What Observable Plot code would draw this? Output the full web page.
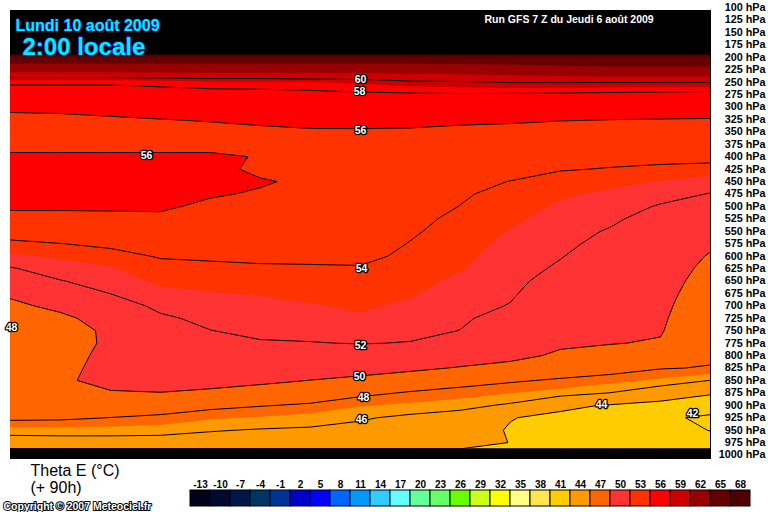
<!DOCTYPE html>
<html>
<head>
<meta charset="utf-8">
<script src="https://cdn.jsdelivr.net/npm/d3@7"></script>
<script src="https://cdn.jsdelivr.net/npm/@observablehq/plot@0.6"></script>
<style>
html, body { margin: 0; padding: 0; background: #ffffff; }
#chart { width: 768px; height: 512px; overflow: hidden; font-family: "Liberation Sans", Arial, sans-serif; }
#chart svg { display: block; }
</style>
</head>
<body>
<div id="chart"></div>
<script>
// ---------- DATA ----------
// grid rows: pressure levels (hPa)
const pressureLevels = [100,125,150,175,200,225,250,275,300,325,350,375,400,425,450,475,500,525,550,575,600,625,650,675,700,725,750,775,800,825,850,875,900,925,950,975];
// grid columns along the cross-section (index)
const columnX = [0,1,2,3,4,5,6,7,8,9,10,11,12,13,14];
// Theta E (°C) profiles, one array per column, top (100 hPa) to bottom (975 hPa)
const profile00 = [100,95,90,85,67,63,58.3,57.0,56.4,55.5,55.3,55.6,56.2,56.5,56.6,56.4,56.15,55.7,54.7,53.7,52.8,51.9,51.1,50.3,49.6,49.1,48.7,48.5,48.5,48.6,48.6,48.6,48.5,48.4,46.5,45.3];
const profile01 = [100,95,90,85,67,63,58.3,57.0,56.45,55.6,55.3,55.6,56.2,56.5,56.6,56.4,56.15,55.7,54.9,53.98,53.15,52.55,51.95,51.2,50.45,49.6,49.3,49.2,49.3,49.5,49.8,49.6,49.0,48.3,46.6,45.3];
const profile02 = [100,95,90,85,67,63,58.3,57.0,56.6,55.8,55.4,55.6,56.2,56.5,56.6,56.4,56.15,55.75,55.1,54.25,53.6,52.9,52.45,52.02,51.3,50.8,50.3,50.3,50.5,50.6,50.4,49.9,49.0,47.98,46.6,45.3];
const profile03 = [100,95,90,85,67,63,58.55,57.1,56.7,55.98,55.5,55.6,56.2,56.5,56.6,56.4,56.15,55.8,55.4,54.8,54.1,53.6,53.2,52.75,52.3,51.8,51.3,50.9,50.7,50.6,50.4,49.98,48.9,47.7,46.5,45.3];
const profile04 = [100,95,90,85,67,63,58.8,57.3,56.75,56.1,55.6,55.7,56.15,56.35,56.3,56.1,55.8,55.5,55.2,54.75,54.2,53.7,53.3,52.95,52.6,52.3,51.98,51.5,51.1,50.8,50.4,49.8,48.45,47.15,46.1,45.3];
const profile05 = [100,95,90,85,67,63,58.8,57.4,56.85,56.25,55.75,55.7,55.95,55.75,56.1,55.9,55.6,55.35,55.05,54.7,54.3,53.8,53.4,53.05,52.8,52.5,52.25,51.9,51.3,50.8,50.3,49.4,48.1,46.9,45.9,45.2];
const profile06 = [100,95,90,85,67,63,59.0,57.5,57.0,56.4,55.85,55.65,55.6,55.7,55.8,55.7,55.5,55.25,54.95,54.65,54.3,53.85,53.5,53.2,52.95,52.65,52.35,51.95,51.3,50.7,49.98,49.0,47.8,46.6,45.8,45.1];
const profile07 = [100,95,90,85,67,63,59.2,57.7,57.1,56.45,55.85,55.55,55.4,55.35,55.35,55.3,55.15,55.0,54.8,54.55,54.3,53.9,53.6,53.35,53.12,52.9,52.6,52.05,51.3,50.6,49.65,48.4,47.1,46.15,45.6,45.0];
const profile08 = [100,95,90,85,67,63.1,59.7,57.76,57.1,56.45,55.8,55.35,55.0,54.75,54.6,54.5,54.4,54.3,54.15,53.95,53.75,53.5,53.3,53.1,52.85,52.6,52.3,51.95,51.3,50.3,49.2,47.85,46.8,45.7,45.1,44.6];
const profile09 = [100,95,90,85,67,63.3,59.83,57.84,57.1,56.3,55.65,55.1,54.7,54.4,54.25,54.12,53.98,53.75,53.55,53.38,53.25,53.08,52.8,52.55,52.35,52.15,51.98,51.5,50.8,49.9,48.6,47.5,46.4,45.4,44.6,44.35];
const profile10 = [100,95,90,85,67,63.6,60.1,57.8,57.1,56.25,55.5,54.95,54.6,54.3,53.98,53.7,53.45,53.2,52.95,52.75,52.55,52.4,52.25,52.12,51.95,51.6,51.2,50.8,50.35,49.6,48.2,47.05,45.8,44.05,43.9,43.98];
const profile11 = [100,95,90,85,67,64.0,60.1,57.7,57.0,56.1,55.3,54.75,54.4,54.07,53.6,53.15,52.85,52.6,52.4,52.25,52.05,51.85,51.6,51.35,51.1,50.8,50.5,50.2,49.8,49.0,47.8,46.6,44.3,43.7,43.2,43.3];
const profile12 = [100,95,90,85,67,64.3,60.1,57.6,56.95,56.02,55.2,54.65,54.3,53.95,53.3,52.8,52.5,52.2,51.9,51.65,51.45,51.25,51.05,50.85,50.65,50.45,50.25,50.05,49.55,48.7,47.35,45.98,43.9,43.1,42.8,43.0];
const profile13 = [100,95,90,85,67,64.3,60.1,57.5,56.9,55.97,55.15,54.6,54.25,53.85,52.95,52.4,51.9,51.5,51.2,50.95,50.75,50.6,50.5,50.4,50.3,50.2,50.1,49.9,49.4,48.1,46.8,45.0,43.5,42.3,42.7,42.9];
const profile14 = [100,95,90,85,67,64.3,60.1,57.3,56.85,55.93,55.1,54.55,54.45,53.55,52.6,51.95,51.4,50.95,50.55,50.2,49.9,49.7,49.5,49.3,49.1,48.9,48.7,48.5,48.3,47.9,45.98,44.2,42.9,41.7,41.95,42.6];
const profiles = [profile00,profile01,profile02,profile03,profile04,profile05,profile06,profile07,profile08,profile09,profile10,profile11,profile12,profile13,profile14];

// legend classes (°C) and their colours
const legendValues = [-13,-10,-7,-4,-1,2,5,8,11,14,17,20,23,26,29,32,35,38,41,44,47,50,53,56,59,62,65,68];
const legendColors = ["#00001a","#000a2e","#001548","#003366","#003399","#0000cc","#0000ff","#0066ff","#0099ff","#33ccff","#66ffff","#66ff99","#66ff66","#66ff00","#ccff1a","#ffff00","#ffff88","#ffe650","#ffcc00","#ff9900","#ff6600","#ff3333","#ff3300","#ff0000","#cc0000","#990000","#660000","#4d0000"];
const aboveScaleValue = 71;
const aboveScaleColor = "#000000";
// isolines drawn every 2 °C
const lineThresholds = [42,44,46,48,50,52,54,56,58,60];
// axis ticks
const tickPressures = [100,125,150,175,200,225,250,275,300,325,350,375,400,425,450,475,500,525,550,575,600,625,650,675,700,725,750,775,800,825,850,875,900,925,950,975,1000];
// isoline labels
const labelText = ["60","58","56","56","54","52","50","48","46","44","42","48"];
const labelCol  = [7.0,6.98,7.0,2.72,7.02,7.0,6.98,7.06,7.02,11.82,13.64,0.02];
const labelP    = [245,269,347,397,625,780,842,884,929,898,917,744];
// texts
const dateTitle = "Lundi 10 août 2009";
const hourTitle = "2:00 locale";
const runTitle = "Run GFS 7 Z du Jeudi 6 août 2009";
const varName = "Theta E (°C)";
const leadTime = "(+ 90h)";
const copyright = "Copyright © 2007 Meteociel.fr";

// ---------- BUILD ----------
const nx = columnX.length, ny = pressureLevels.length;
const grid = [];
for (let j = 0; j < ny; j++) for (let i = 0; i < nx; i++) grid.push(profiles[i][j]);
const dx = columnX[1] - columnX[0], dp = pressureLevels[1] - pressureLevels[0];
const gridExtent = {
  width: nx, height: ny,
  x1: columnX[0] - dx / 2, x2: columnX[nx - 1] + dx / 2,
  y1: pressureLevels[0] - dp / 2, y2: pressureLevels[ny - 1] + dp / 2
};
const firstIdx = legendValues.indexOf(41);
const fillThresholds = legendValues.slice(firstIdx).concat([aboveScaleValue]);
const fillColors = legendColors.slice(firstIdx).concat([aboveScaleColor]);
const pTop = 106, pBottom = 1007;
const font = "'Liberation Sans', Arial, sans-serif";

const main = Plot.plot({
  width: 768, height: 462,
  marginTop: 10, marginRight: 58, marginBottom: 4, marginLeft: 10,
  style: {fontFamily: font, background: "#ffffff", overflow: "visible"},
  x: {domain: [columnX[0], columnX[nx - 1]], axis: null},
  y: {domain: [pBottom, pTop], axis: null},
  color: {type: "threshold", domain: fillThresholds.slice(1), range: fillColors},
  marks: [
    Plot.frame({fill: "black", stroke: "black"}),
    Plot.contour(grid, {...gridExtent, fill: Plot.identity, thresholds: fillThresholds, clip: true}),
    Plot.contour(grid, {...gridExtent, value: Plot.identity, thresholds: lineThresholds, fill: "none", stroke: "black", strokeWidth: 1, clip: true}),
    Plot.text(labelText, {x: (d, i) => labelCol[i], y: (d, i) => labelP[i], text: d => d,
      fill: "white", stroke: "black", strokeWidth: 2.5, paintOrder: "stroke", fontSize: 10.5, fontWeight: "bold"}),
    Plot.axisY(tickPressures, {anchor: "right", tickSize: 0, tickPadding: 55, textAnchor: "end",
      tickFormat: d => `${d} hPa`, fontSize: 10.8, fontWeight: "bold", fill: "black", label: null}),
    Plot.text([dateTitle], {frameAnchor: "top-left", dx: 5, dy: 9, fontSize: 16, fontWeight: "bold",
      fill: "#00eeff", stroke: "#0022bb", strokeWidth: 1.2, paintOrder: "stroke"}),
    Plot.text([hourTitle], {frameAnchor: "top-left", dx: 12, dy: 27, fontSize: 24, fontWeight: "bold",
      fill: "#00eeff", stroke: "#0022bb", strokeWidth: 1.4, paintOrder: "stroke"}),
    Plot.text([runTitle], {frameAnchor: "top-left", dx: 474, dy: 5, fontSize: 10.5, fontWeight: "bold", fill: "white"})
  ]
});

const legend = Plot.plot({
  width: 768, height: 50,
  marginTop: 28, marginBottom: 6, marginLeft: 0, marginRight: 0,
  style: {fontFamily: font, background: "#ffffff", overflow: "visible"},
  x: {type: "band", domain: legendValues, range: [190, 750], padding: 0, axis: null},
  marks: [
    Plot.cell(legendValues, {x: d => d, fill: (d, i) => legendColors[i], stroke: "black", strokeWidth: 1, inset: 0}),
    Plot.text(legendValues, {x: d => d, frameAnchor: "top", lineAnchor: "middle", dy: -6, text: d => String(d),
      fontSize: 10, fontWeight: "bold", fill: "black"}),
    Plot.text([varName], {frameAnchor: "top-left", dx: 30, dy: -26, fontSize: 16, fill: "black"}),
    Plot.text([leadTime], {frameAnchor: "top-left", dx: 30, dy: -9, fontSize: 16, fill: "black"}),
    Plot.text([copyright], {frameAnchor: "top-left", dx: 3, dy: 12, fontSize: 10.5, fontWeight: "bold",
      fill: "white", stroke: "black", strokeWidth: 2, paintOrder: "stroke"})
  ]
});

const chart = document.getElementById("chart");
chart.appendChild(main);
chart.appendChild(legend);
</script>
</body>
</html>
